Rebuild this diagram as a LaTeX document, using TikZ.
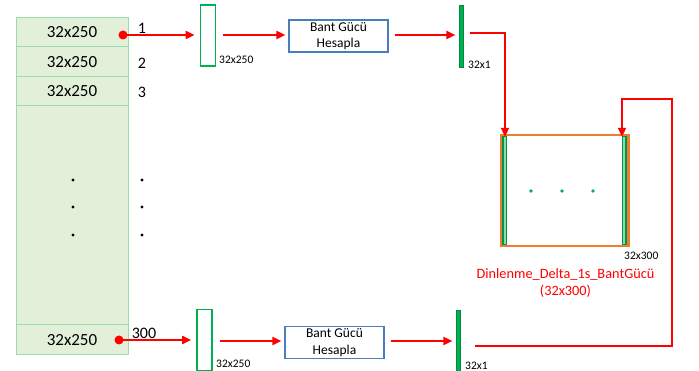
\documentclass[tikz,border=0pt]{standalone}
\usepackage{fontspec}
\setmainfont{Carlito}
\usetikzlibrary{arrows.meta}
\definecolor{cellfill}{HTML}{E2F0D9}
\definecolor{cellline}{HTML}{9ADBB0}
\definecolor{gbar}{HTML}{00B050}
\definecolor{bluebox}{HTML}{4A7EBB}
\definecolor{orng}{HTML}{ED7D31}
\definecolor{rd}{HTML}{FF0000}
\tikzset{
  cell/.style={draw=cellline, fill=cellfill, line width=1pt, minimum width=112pt, inner sep=0pt, font=\fontsize{17}{19}\selectfont},
  dotnode/.style={circle, fill=rd, inner sep=0pt, minimum size=9pt},
  arr/.style={draw=rd, line width=2pt, -{Triangle[length=9pt,width=8pt]}},
  openbar/.style={draw=gbar, line width=1.8pt, minimum width=15pt, minimum height=61pt, inner sep=0pt},
  thinbar/.style={draw=gbar!80!black, fill=gbar, line width=0.6pt, minimum width=3.5pt, minimum height=62pt, inner sep=0pt},
  calc/.style={draw=bluebox, line width=1.2pt, minimum width=99pt, minimum height=32pt, inner sep=1pt, align=center, font=\fontsize{13.5}{16.5}\selectfont},
  small/.style={font=\fontsize{11.5}{13}\selectfont, inner sep=0pt},
  num/.style={font=\fontsize{16}{18}\selectfont, inner sep=0pt},
  bdot/.style={circle, fill=black, inner sep=0pt, minimum size=3.2pt},
  gdot/.style={circle, fill=gbar, inner sep=0pt, minimum size=3.8pt},
  strip/.style={draw=gbar!85!black, fill=gbar!45, line width=1.3pt, minimum width=3.5pt, minimum height=108pt, inner sep=0pt},
}
\begin{document}
\begin{tikzpicture}[x=1pt,y=-1pt]
\useasboundingbox (0,0) rectangle (699,371);
\begin{scope}
\clip (0,0) rectangle (699,371);
% left column
\node[cell, minimum height=29pt] (r1) at (72,32.5) {32x250};
\node[cell, minimum height=30pt] (r2) at (72,62) {32x250};
\node[cell, minimum height=29pt] (r3) at (72,91.5) {32x250};
\node[cell, minimum height=219pt] (rbig) at (72,215.5) {};
\node[cell, minimum height=30pt] (r300) at (72,340) {32x250};
% dots
\foreach \yy [count=\i] in {180,207,235}{
  \node[bdot] (ld\i) at (73,\yy) {};
  \node[bdot] (rd\i) at (142,\yy) {};
}
% numbers
\node[num] (n1) at (142,28) {1};
\node[num] (n2) at (142,63) {2};
\node[num] (n3) at (142,92) {3};
\node[num] (n300) at (144,333) {300};
% top chain
\node[dotnode] (d1) at (123,35) {};
\node[openbar] (b1) at (208,35.5) {};
\node[small, anchor=north west] (b1l) at (219,56) {32x250};
\node[calc] (c1) at (338.5,36) {Bant Gücü\\Hesapla};
\node[thinbar] (t1) at (461.5,36) {};
\node[small, anchor=north west] (t1l) at (468,61) {32x1};
% bottom chain
\node[dotnode] (d2) at (119,340) {};
\node[openbar] (b2) at (204.5,340) {};
\node[small, anchor=north west] (b2l) at (216,360) {32x250};
\node[calc] (c2) at (334.5,342.5) {Bant Gücü\\Hesapla};
\node[thinbar] (t2) at (458.5,341) {};
\node[small, anchor=north west] (t2l) at (465,362) {32x1};
% result box
\node[draw=orng, line width=2.4pt, minimum width=127pt, minimum height=111pt, inner sep=0pt] (res) at (565,190.5) {};
\node[strip] (sl) at (504.8,190.5) {};
\node[strip] (sr) at (624.3,190.5) {};
\node[gdot] (g1) at (531,191) {};
\node[gdot] (g2) at (562,191) {};
\node[gdot] (g3) at (593,191) {};
\node[small, anchor=west] (resl) at (624,256) {32x300};
\node[font=\fontsize{14.3}{16.5}\selectfont, text=rd, align=center, inner sep=0pt] (resn) at (565.5,283) {Dinlenme\_Delta\_1s\_BantGücü\\(32x300)};
% connectors
\coordinate (k1) at (505,33);
\coordinate (k2) at (672,346);
\coordinate (k3) at (672,99);
\coordinate (k4) at (622,99);
\draw[arr] (d1.center) -- ([xshift=-5pt]b1.west |- d1.center);
\draw[arr] ([xshift=7pt]b1.east |- d1.center) -- ([xshift=-3pt]c1.west |- d1.center);
\draw[arr] ([xshift=6pt]c1.east |- d1.center) -- ([xshift=-4pt]t1.west |- d1.center);
\draw[arr] ([xshift=6pt]t1.east |- k1) -- (k1) -- ([yshift=-3pt]k1 |- res.north);
\draw[arr] (d2.center) -- ([xshift=-5pt]b2.west |- d2.center);
\draw[arr] ([xshift=7pt]b2.east |- 0,341) -- ([xshift=-3pt]c2.west |- 0,341);
\draw[arr] ([xshift=6pt]c2.east |- 0,341) -- ([xshift=-4pt]t2.west |- 0,341);
\draw[arr] ([xshift=14pt]t2.east |- k2) -- (k2) -- (k3) -- (k4) -- ([yshift=-3pt]k4 |- res.north);
\end{scope}
\end{tikzpicture}
\end{document}
